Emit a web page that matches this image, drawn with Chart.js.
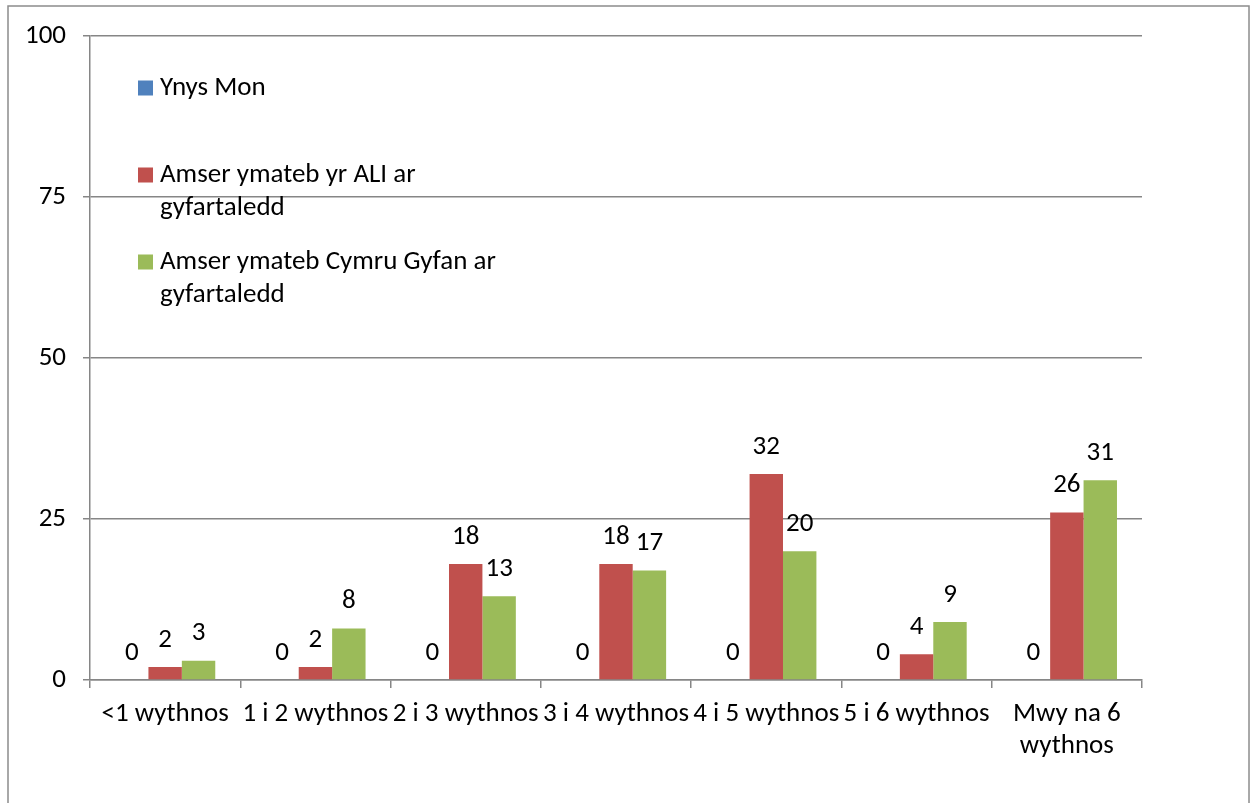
<!DOCTYPE html>
<html>
<head>
<meta charset="utf-8">
<script src="https://cdn.jsdelivr.net/npm/chart.js@4/dist/chart.umd.min.js"></script>
<style>
  html, body { margin: 0; padding: 0; background: #fff; }
  #wrap { width: 1252px; height: 803px; position: relative; }
</style>
</head>
<body>
<div id="wrap"><canvas id="c" width="1252" height="803"></canvas></div>
<script>
const categories = ['<1 wythnos', '1 i 2 wythnos', '2 i 3 wythnos', '3 i 4 wythnos', '4 i 5 wythnos', '5 i 6 wythnos', ['Mwy na 6', 'wythnos']];
const seriesNames = ['Ynys Mon', 'Amser ymateb yr ALI ar gyfartaledd', 'Amser ymateb Cymru Gyfan ar gyfartaledd'];
const ynysMon = [0, 0, 0, 0, 0, 0, 0];
const aliAverage = [2, 2, 18, 18, 32, 4, 26];
const cymruAverage = [3, 8, 13, 17, 20, 9, 31];
const yTicks = [0, 25, 50, 75, 100];
const colors = ['#4F81BD', '#C0504D', '#9BBB59'];

const FONT = 'Carlito, Lato, "Liberation Sans", sans-serif';
const FS = 27;

const frame = {
  id: 'frame',
  beforeDraw(chart) {
    const ctx = chart.ctx;
    ctx.save();
    ctx.fillStyle = '#fff';
    ctx.fillRect(0, 0, chart.width, chart.height);
    ctx.strokeStyle = '#8c8c8c';
    ctx.lineWidth = 1.5;
    ctx.strokeRect(8, 6, 1241, 900);
    ctx.restore();
  }
};

const valueLabels = {
  id: 'valueLabels',
  afterDatasetsDraw(chart) {
    const ctx = chart.ctx;
    ctx.save();
    ctx.font = FS + 'px ' + FONT;
    ctx.fillStyle = '#000';
    ctx.textAlign = 'center';
    ctx.textBaseline = 'middle';
    chart.data.datasets.forEach((ds, i) => {
      const meta = chart.getDatasetMeta(i);
      meta.data.forEach((el, j) => {
        ctx.fillText(String(ds.data[j]), el.x, el.y - 27);
      });
    });
    ctx.restore();
  }
};

function wrap(ctx, text, maxW) {
  const words = text.split(' ');
  const lines = [];
  let cur = '';
  words.forEach(w => {
    const t = cur ? cur + ' ' + w : w;
    if (ctx.measureText(t).width > maxW && cur) { lines.push(cur); cur = w; }
    else cur = t;
  });
  if (cur) lines.push(cur);
  return lines;
}

const innerLegend = {
  id: 'innerLegend',
  afterDraw(chart) {
    const ctx = chart.ctx;
    ctx.save();
    ctx.font = FS + 'px ' + FONT;
    ctx.textBaseline = 'middle';
    ctx.textAlign = 'left';
    const x0 = 138, y0 = 88, step = 87, lineH = 33, box = 15;
    chart.data.datasets.forEach((ds, i) => {
      const y = y0 + i * step;
      ctx.fillStyle = ds.backgroundColor;
      ctx.fillRect(x0, y - box / 2, box, box);
      ctx.fillStyle = '#000';
      wrap(ctx, ds.label, 345).forEach((ln, k) => {
        ctx.fillText(ln, x0 + 22, y + k * lineH);
      });
    });
    ctx.restore();
  }
};

new Chart(document.getElementById('c'), {
  type: 'bar',
  data: {
    labels: categories,
    datasets: [
      { label: seriesNames[0], data: ynysMon, backgroundColor: colors[0] },
      { label: seriesNames[1], data: aliAverage, backgroundColor: colors[1] },
      { label: seriesNames[2], data: cymruAverage, backgroundColor: colors[2] }
    ]
  },
  options: {
    responsive: false,
    animation: false,
    layout: { padding: { left: 0, top: 36, right: 110, bottom: 0 } },
    datasets: { bar: { categoryPercentage: 0.667, barPercentage: 1.0, borderWidth: 0 } },
    plugins: { legend: { display: false }, tooltip: { enabled: false } },
    scales: {
      x: {
        offset: true,
        grid: { display: true, drawOnChartArea: false, drawTicks: true, tickLength: 8, color: '#868686', lineWidth: 1.5, offset: true },
        border: { display: true, color: '#868686', width: 1.5 },
        ticks: { color: '#000', font: { family: FONT, size: FS, lineHeight: 1.19 }, padding: 10, maxRotation: 0, autoSkip: false },
        afterFit(s) { s.height = 123; }
      },
      y: {
        min: 0, max: 100,
        afterBuildTicks(s) { s.ticks = yTicks.map(v => ({ value: v })); },
        grid: { color: '#868686', lineWidth: 1.5, tickLength: 7, drawTicks: true },
        border: { display: true, color: '#868686', width: 1.5 },
        ticks: { color: '#000', font: { family: FONT, size: FS }, padding: 17 },
        afterFit(s) { s.width = 90; }
      }
    }
  },
  plugins: [frame, valueLabels, innerLegend]
});
</script>
</body>
</html>
